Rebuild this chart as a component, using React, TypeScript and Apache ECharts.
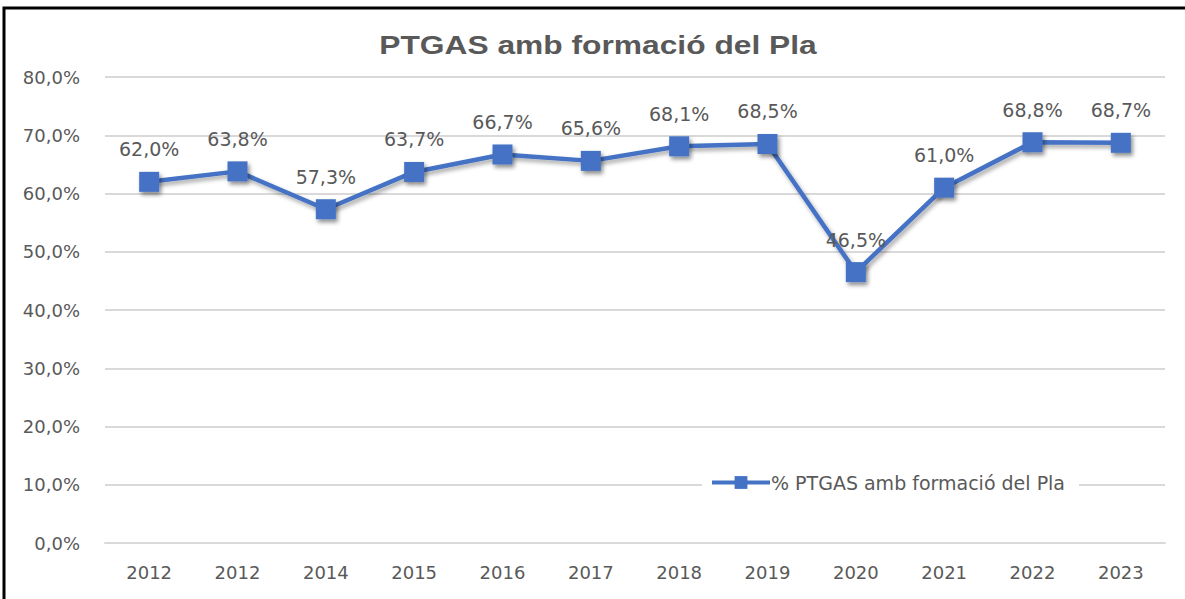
import React, { useEffect, useRef } from "react";
import * as echarts from "echarts";

const categories = ["2012", "2012", "2014", "2015", "2016", "2017", "2018", "2019", "2020", "2021", "2022", "2023"];
const values = [62.0, 63.8, 57.3, 63.7, 66.7, 65.6, 68.1, 68.5, 46.5, 61.0, 68.8, 68.7];
const seriesName = "% PTGAS amb formació del Pla";
const titleText = "PTGAS amb formació del Pla";

const fmt = (v: number) => v.toFixed(1).replace(".", ",") + "%";

export default function App() {
  const ref = useRef<HTMLDivElement>(null);
  useEffect(() => {
    document.body.style.margin = "0";
    const chart = echarts.init(ref.current!, null, { renderer: "svg" });
    const blue = "#4472C4";
    const gray = "#595959";
    const font = "'DejaVu Sans', 'Noto Sans', sans-serif";
    chart.setOption({
      animation: false,
      backgroundColor: "#ffffff",
      grid: { left: 105, right: 20, top: 77, bottom: 56 },
      legend: {
        left: 702,
        top: 469,
        backgroundColor: "#ffffff",
        padding: [4, 14, 4, 8],
        itemWidth: 58,
        itemHeight: 16,
        itemGap: 2,
        lineStyle: { width: 4 },
        textStyle: { fontFamily: font, fontSize: 19, color: gray, padding: [0, 0, 0, -4] },
        data: [seriesName],
      },
      xAxis: {
        type: "category",
        data: categories,
        boundaryGap: true,
        axisLine: { lineStyle: { color: "#d9d9d9", width: 2 } },
        axisTick: { show: false },
        axisLabel: { color: gray, fontFamily: font, fontSize: 18, margin: 20 },
      },
      yAxis: {
        type: "value",
        min: 0,
        max: 80,
        interval: 10,
        axisLabel: { color: gray, fontFamily: font, fontSize: 18, margin: 25, formatter: (v: number) => fmt(v) },
        splitLine: { lineStyle: { color: "#d9d9d9", width: 2 } },
        axisLine: { show: false },
        axisTick: { show: false },
      },
      series: [
        {
          name: seriesName,
          type: "line",
          data: values,
          symbol: "rect",
          symbolSize: 20,
          itemStyle: { color: blue, shadowBlur: 4, shadowColor: "rgba(0,0,0,0.45)", shadowOffsetX: 2, shadowOffsetY: 3 },
          lineStyle: { color: blue, width: 4.5, shadowBlur: 4, shadowColor: "rgba(0,0,0,0.35)", shadowOffsetX: 2, shadowOffsetY: 3 },
          label: {
            show: true,
            position: "top",
            distance: 13,
            color: gray,
            fontFamily: font,
            fontSize: 19,
            formatter: (p: any) => fmt(p.value),
          },
          z: 3,
        },
      ],
      graphic: [
        {
          type: "text",
          x: 598,
          y: 45,
          scaleX: 1.27,
          style: {
            text: titleText,
            textAlign: "center",
            textVerticalAlign: "middle",
            font: "bold 25px 'Liberation Sans', Arial, sans-serif",
            fill: gray,
          },
          silent: true,
        },
        {
          type: "rect",
          shape: { x: 4, y: 8, width: 1200, height: 620 },
          style: { fill: "none", stroke: "#000000", lineWidth: 3 },
          silent: true,
        },
      ],
    });
    return () => chart.dispose();
  }, []);
  return <div ref={ref} style={{ width: 1185, height: 599 }} />;
}
